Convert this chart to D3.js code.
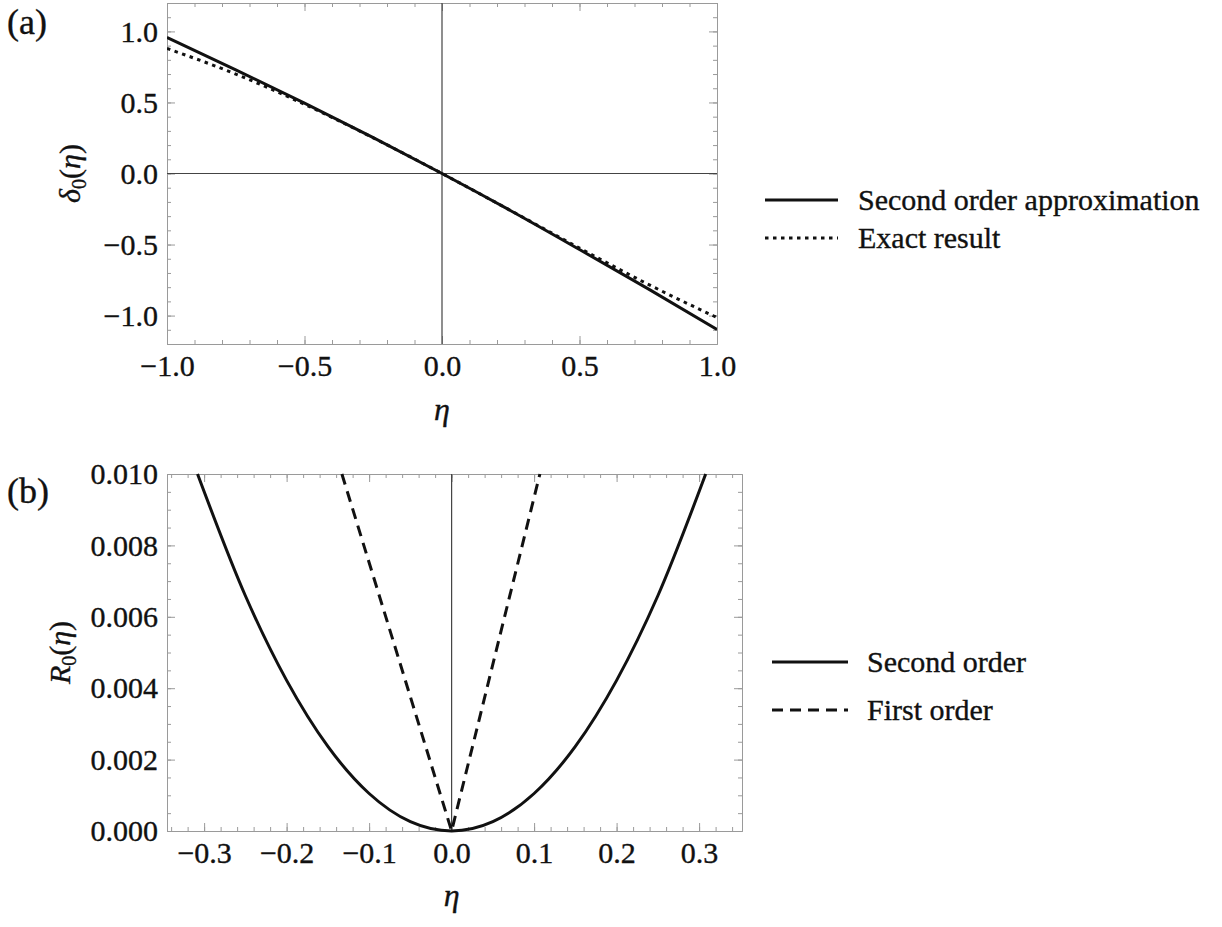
<!DOCTYPE html>
<html>
<head>
<meta charset="utf-8">
<script src="https://d3js.org/d3.v7.min.js"></script>
<style>
    body { margin: 0; background: #fff; }
    svg text { font-family: "Liberation Serif", "Times New Roman", serif; fill: #111; stroke: #111; stroke-width: 0.35; }
    .legend { font-size: 30px; }
    .frame-axis path, .frame-axis line { stroke: #9a9a9a; stroke-width: 1; }
</style>
</head>
<body>
<svg id="chart"></svg>
<script>
// data (a)
const etaA = [-1, -0.75, -0.5, -0.25, 0, 0.25, 0.5, 0.75, 1];
const secondOrderA = [0.958, 0.73, 0.495, 0.252, 0, -0.262, -0.535, -0.812, -1.098];
const exactA = [0.88, 0.70, 0.487, 0.251, 0, -0.261, -0.525, -0.78, -1.014];
const ticksA = [-1.0, -0.5, 0.0, 0.5, 1.0];

// data (b)
const etaB = [-0.308, -0.25, -0.2, -0.15, -0.1, -0.05, 0, 0.05, 0.1, 0.15, 0.2, 0.25, 0.308];
const secondOrderB = [0.0100, 0.00659, 0.00422, 0.00237, 0.00105, 0.00026, 0, 0.00026, 0.00105, 0.00237, 0.00422, 0.00659, 0.0100];
const etaFirstB = [-0.133, 0, 0.107];
const firstOrderB = [0.0100, 0, 0.0100];
const xTicksB = [-0.3, -0.2, -0.1, 0.0, 0.1, 0.2, 0.3];
const yTicksB = [0.000, 0.002, 0.004, 0.006, 0.008, 0.010];

const legendA = ['Second order approximation', 'Exact result'];
const legendB = ['Second order', 'First order'];

let width = 1222;
let height = 927;

let svg = d3.select('#chart')
    .attr('width', width)
    .attr('height', height);

// draws a Mathematica-like frame with inward ticks on all four sides
function frame(g, x, y, xMajor, xMinor, yMajor, yMinor, xFmt, yFmt) {
    let [x0, x1] = x.range();
    let [y0, y1] = y.range(); // y0 bottom, y1 top

    let sides = [
        [d3.axisBottom(x), y0, true, xMajor, xMinor, xFmt, 'x', 11],
        [d3.axisTop(x), y1, false, xMajor, xMinor, xFmt, 'x', 0],
        [d3.axisLeft(y), x0, true, yMajor, yMinor, yFmt, 'y', 9],
        [d3.axisRight(y), x1, false, yMajor, yMinor, yFmt, 'y', 0]
    ];

    sides.forEach(([ax, pos, labels, major, minor, fmt, dir, pad]) => {
        let tr = dir === 'x' ? `translate(0,${pos})` : `translate(${pos},0)`;

        // minor ticks
        g.append('g')
            .attr('class', 'frame-axis')
            .attr('transform', tr)
            .call(ax.tickValues(minor).tickSize(-4).tickFormat(''))
            .call(s => s.select('.domain').remove());

        // major ticks
        let a = g.append('g')
            .attr('class', 'frame-axis')
            .attr('transform', tr)
            .call(ax.tickValues(major).tickSize(-8).tickPadding(pad)
                .tickFormat(labels ? fmt : ''));
        a.selectAll('.tick text')
            .style('font-family', '"Liberation Serif", serif')
            .style('font-size', '30px')
            .style('fill', '#111');
    });
}

function minorTicks(lo, hi, step) {
    let out = [];
    let n = Math.round((hi - lo) / step);
    for (let i = 0; i <= n; i++) out.push(+(lo + i * step).toFixed(6));
    return out;
}

function yLabel(g, cx, cy, sym) {
    let t = g.append('text')
        .attr('transform', `translate(${cx},${cy}) rotate(-90)`)
        .attr('text-anchor', 'middle')
        .style('font-size', '30px');
    t.append('tspan').style('font-style', 'italic').text(sym);
    t.append('tspan').attr('dy', 6).style('font-size', '20px').text('0');
    t.append('tspan').attr('dy', -6).text('(');
    t.append('tspan').style('font-style', 'italic').text('η');
    t.append('tspan').text(')');
}

// ---------- panel (a) ----------

let xA = d3.scaleLinear().domain([-1, 1]).range([167, 717]);
let yA = d3.scaleLinear().domain([-1.2, 1.2]).range([344, 3]);

let gA = svg.append('g');

svg.append('clipPath').attr('id', 'clipA')
    .append('rect')
    .attr('x', 167).attr('y', 3).attr('width', 550).attr('height', 341);

frame(gA, xA, yA, ticksA, minorTicks(-1, 1, 0.1), ticksA, minorTicks(-1.2, 1.2, 0.1),
    d3.format('.1f'), d3.format('.1f'));

// axes through origin
gA.append('line')
    .attr('x1', xA(0)).attr('x2', xA(0))
    .attr('y1', yA.range()[1]).attr('y2', yA.range()[0])
    .style('stroke', '#444').style('stroke-width', 1.2);
gA.append('line')
    .attr('x1', xA.range()[0]).attr('x2', xA.range()[1])
    .attr('y1', yA(0)).attr('y2', yA(0))
    .style('stroke', '#444').style('stroke-width', 1.2);

let lineA = d3.line().curve(d3.curveMonotoneX);

gA.append('path')
    .attr('clip-path', 'url(#clipA)')
    .attr('d', lineA(etaA.map((e, i) => [xA(e), yA(exactA[i])])))
    .style('fill', 'none').style('stroke', '#111').style('stroke-width', 3)
    .style('stroke-dasharray', '3.5,4.5');

gA.append('path')
    .attr('clip-path', 'url(#clipA)')
    .attr('d', lineA(etaA.map((e, i) => [xA(e), yA(secondOrderA[i])])))
    .style('fill', 'none').style('stroke', '#111').style('stroke-width', 3);

gA.append('text')
    .attr('x', xA(0)).attr('y', 420)
    .attr('text-anchor', 'middle')
    .style('font-size', '32px').style('font-style', 'italic')
    .text('η');

yLabel(gA, 80, yA(0), 'δ');

gA.append('text')
    .attr('x', 7).attr('y', 34)
    .style('font-size', '36px')
    .text('(a)');

// legend (a)
let dashA = ['', '3.5,4.5'];
legendA.forEach((name, i) => {
    let ly = 200 + i * 38;
    gA.append('line')
        .attr('x1', 765).attr('x2', 838)
        .attr('y1', ly).attr('y2', ly)
        .style('stroke', '#111').style('stroke-width', 3)
        .style('stroke-dasharray', dashA[i]);
    gA.append('text')
        .attr('class', 'legend')
        .attr('x', 858).attr('y', ly + 10)
        .text(name);
});

// ---------- panel (b) ----------

let xB = d3.scaleLinear().domain([-0.345, 0.352]).range([167, 742]);
let yB = d3.scaleLinear().domain([0, 0.010]).range([831, 474]);

let gB = svg.append('g');

svg.append('clipPath').attr('id', 'clipB')
    .append('rect')
    .attr('x', 167).attr('y', 472).attr('width', 575).attr('height', 361);

frame(gB, xB, yB, xTicksB, minorTicks(-0.34, 0.34, 0.02), yTicksB, minorTicks(0, 0.010, 0.0005),
    d3.format('.1f'), d3.format('.3f'));

gB.append('line')
    .attr('x1', xB(0)).attr('x2', xB(0))
    .attr('y1', yB.range()[1]).attr('y2', yB.range()[0])
    .style('stroke', '#444').style('stroke-width', 1.2);

let lineB = d3.line().curve(d3.curveMonotoneX);

gB.append('path')
    .attr('clip-path', 'url(#clipB)')
    .attr('d', d3.line()(etaFirstB.map((e, i) => [xB(e), yB(firstOrderB[i])])))
    .style('fill', 'none').style('stroke', '#111').style('stroke-width', 3)
    .style('stroke-dasharray', '11,7');

gB.append('path')
    .attr('clip-path', 'url(#clipB)')
    .attr('d', lineB(etaB.map((e, i) => [xB(e), yB(secondOrderB[i])])))
    .style('fill', 'none').style('stroke', '#111').style('stroke-width', 3);

gB.append('text')
    .attr('x', xB(0)).attr('y', 906)
    .attr('text-anchor', 'middle')
    .style('font-size', '32px').style('font-style', 'italic')
    .text('η');

yLabel(gB, 70, (yB.range()[0] + yB.range()[1]) / 2, 'R');

gB.append('text')
    .attr('x', 7).attr('y', 503)
    .style('font-size', '36px')
    .text('(b)');

// legend (b)
let dashB = ['', '11,7'];
legendB.forEach((name, i) => {
    let ly = 662 + i * 48;
    gB.append('line')
        .attr('x1', 772).attr('x2', 848)
        .attr('y1', ly).attr('y2', ly)
        .style('stroke', '#111').style('stroke-width', 3)
        .style('stroke-dasharray', dashB[i]);
    gB.append('text')
        .attr('class', 'legend')
        .attr('x', 867).attr('y', ly + 10)
        .text(name);
});
</script>
</body>
</html>
